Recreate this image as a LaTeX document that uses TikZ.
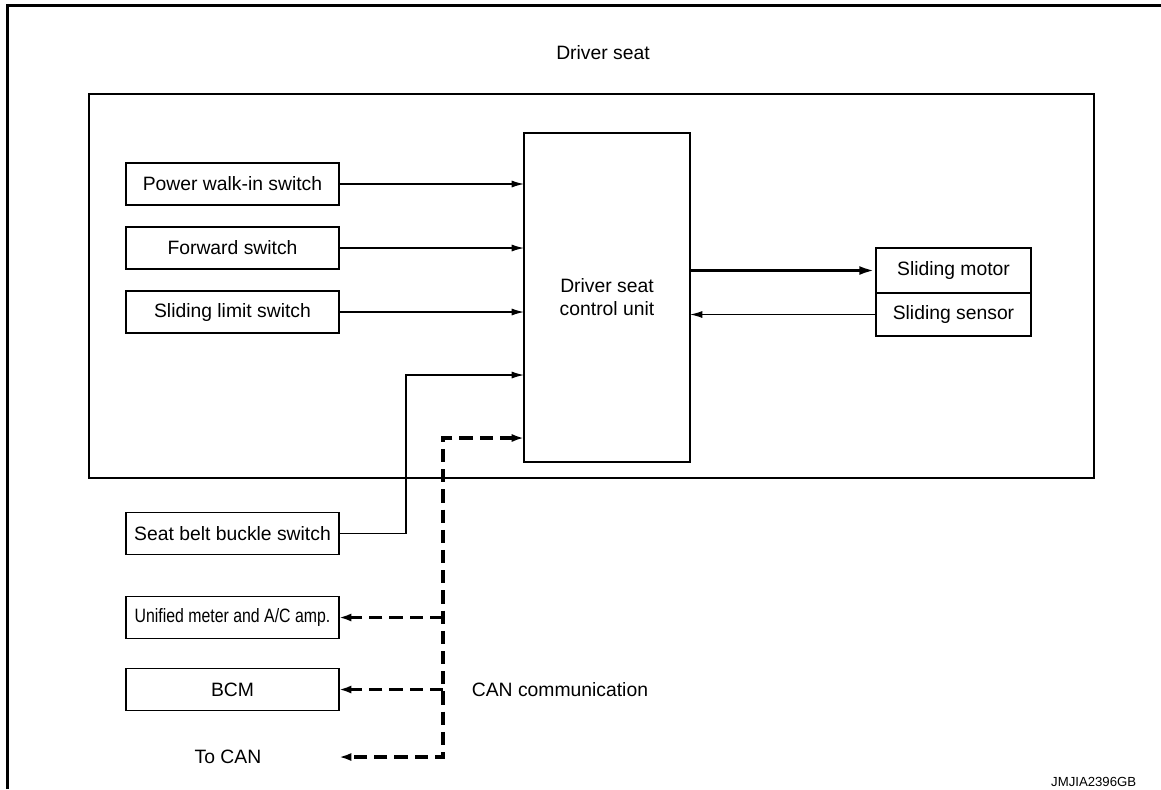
\documentclass[tikz,border=0pt]{standalone}
\usepackage{fontspec}
\setmainfont{Liberation Sans}
\usetikzlibrary{arrows.meta,positioning}

\begin{document}
\begin{tikzpicture}[every node/.style={outer sep=0pt},line width=0.7pt,
    font=\fontsize{11}{11.5}\selectfont,
    unit/.style={draw,line width=0.9pt,minimum width=4.26cm,minimum height=0.84cm,inner sep=0pt},
    sig/.style={-{Latex[length=7pt,width=4pt]}},
    power/.style={line width=1.9pt,-{Latex[length=9.5pt,width=5pt]}},
    can/.style={line width=1.9pt,dash pattern=on 7.5pt off 4pt},
    canarrows/.style={can,{Latex[length=7pt,width=4.6pt]}-{Latex[length=7pt,width=4.6pt]}}]

  \useasboundingbox (0,0) rectangle (23.22,-15.78);
  \draw[line width=2pt] (0.15,-15.78) -- (0.15,-0.11) -- (23.22,-0.11);

  \node[draw,line width=0.9pt,minimum width=20.1cm,minimum height=7.68cm] (seat) at (11.83,-5.72) {};
  \node (seatlbl) at (12.06,-1.06) {Driver seat};

  \node[draw,line width=0.9pt,minimum width=3.32cm,minimum height=6.58cm,align=center] (cu)
    at (12.14,-5.95) {Driver seat\\[1.5pt]control unit};

  \node[unit] (walkin) at (4.65,-3.68) {Power walk-in switch};
  \node[unit,below=0.44cm of walkin] (fwd) {Forward switch};
  \node[unit,below=0.44cm of fwd] (slim) {Sliding limit switch};

  \node[unit] (belt) at (4.65,-10.67) {Seat belt buckle switch};
  \node[unit,below=0.84cm of belt] (meter) {\scalebox{0.82}[1]{Unified meter and A/C amp.}};
  \node[unit,below=0.6cm of meter] (bcm) {BCM};
  \node (tocan) at (4.56,-15.14) {To CAN};

  \node[draw,line width=0.9pt,minimum width=3.1cm,minimum height=0.9cm] (motor) at (19.07,-5.41) {Sliding motor};
  \node[draw,line width=0.9pt,minimum width=3.1cm,minimum height=0.86cm,below=0pt of motor] (sensor) {Sliding sensor};

  \foreach \X in {walkin,fwd,slim}
    \draw[sig] (\X.east) -- (cu.west|-\X.east);

  \path (cu.west) ++(0,-1.55) coordinate (beltin) ++(0,-1.26) coordinate (canin);
  \draw[sig] (belt.east) -- ++(1.34,0) |- (beltin);

  \draw[power] (cu.east|-motor) -- (motor.west);
  \draw[sig] (sensor.west) -- (cu.east|-sensor);

  % CAN lines
  \coordinate (bustop) at ([xshift=-1.62cm]canin);
  \coordinate (busbot) at (bustop|-tocan);
  \draw[canarrows] (canin) -| (busbot) -- (meter.east|-tocan);
  \foreach \X in {meter,bcm}
    \draw[can,-{Latex[length=7pt,width=4.6pt]}] (bustop|-\X.east) -- (\X.east);
  \node[anchor=west] (canlbl) at (9.32,-13.8) {CAN communication};

  \node[anchor=east,font=\fontsize{7.5}{9}\selectfont] (code) at (22.84,-15.64) {JMJIA2396GB};
\end{tikzpicture}
\end{document}
